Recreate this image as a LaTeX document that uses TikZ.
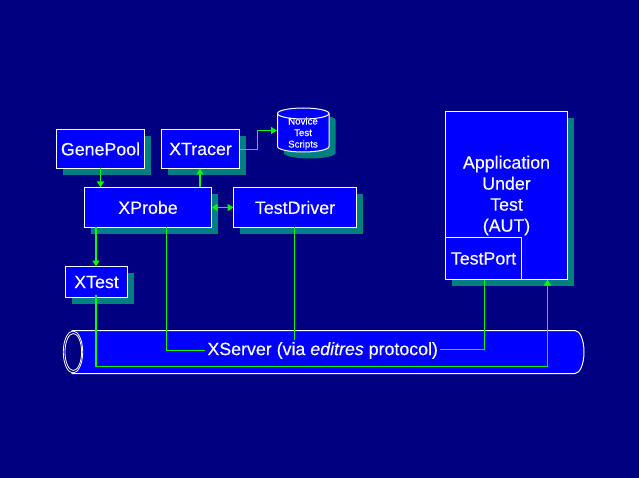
\documentclass[tikz,border=0pt]{standalone}
\usepackage{fontspec}
\setmainfont{Liberation Sans}[FakeBold=0.25]
\usetikzlibrary{math}
\usetikzlibrary{shadows}
\usetikzlibrary{arrows.meta}
\definecolor{deepnavy}{HTML}{000080}
\definecolor{boxblue}{HTML}{0000FF}
\definecolor{shadowteal}{HTML}{008080}
\definecolor{linkgreen}{HTML}{00FF00}
\newcommand{\drumoutline}{(277.5,113.5) arc[start angle=180, end angle=360, x radius=25.75, y radius=5.5] -- (329,146.5) arc[start angle=0, end angle=180, x radius=25.75, y radius=5.5] -- cycle}
\tikzset{
	plainbox/.style={draw=white, line width=1pt, fill=boxblue, text=white, font=\fontsize{17.8}{21}\selectfont, align=center, inner sep=0pt, outer sep=0pt},
	shadowbox/.style={plainbox, drop shadow={shadow xshift=6.5pt, shadow yshift=-6.5pt, fill=shadowteal, opacity=1}},
	link/.style={draw=linkgreen, line width=1.3pt},
	fatlink/.style={link, line width=2pt},
	tip/.style={-{Triangle[length=6pt,width=7pt]}},
}
\begin{document}
\begin{tikzpicture}[x=1pt,y=-1pt]
	\tikzmath{\pipel=72; \piper=575; \pipet=330.5; \pipeb=373.5; \pipem=(\pipet+\pipeb)/2; \piperad=(\pipeb-\pipet)/2; \busy=366.5; \busx=547.5;}
	\fill[deepnavy] (0,0) rectangle (639,478);
	\useasboundingbox (0,0) rectangle (639,478);
	% the pipe
	\filldraw[draw=white, line width=1pt, fill=boxblue] (\pipel,\pipet) -- (\piper,\pipet) arc[start angle=-90, end angle=90, x radius=9, y radius=\piperad] -- (\pipel,\pipeb) -- cycle;
	\filldraw[draw=white, line width=0.8pt, fill=deepnavy] (\pipel+1,\pipem) ellipse[x radius=9.7, y radius=\piperad-0.5];
	\draw[white, line width=0.8pt] (\pipel+1.3,\pipem) ellipse[x radius=8.3, y radius=\piperad-3];
	\node[text=white, font=\fontsize{17.8}{21}\selectfont, inner sep=2pt] (xserver) at (322.7,350.5) {XServer (via \textit{editres} protocol)};
	% the drum
	\fill[shadowteal, shift={(6.5,6.5)}] \drumoutline;
	\filldraw[draw=white, line width=1pt, fill=boxblue] \drumoutline;
	\draw[white, line width=1pt] (277.5,113.5) arc[start angle=180, end angle=0, x radius=25.75, y radius=5.5];
	\node[text=white, align=center, inner sep=0pt, font=\fontsize{9.7}{11.5}\selectfont] (scripts) at (303,133.5) {Novice\\Test\\Scripts};
	\coordinate (drumside) at (277,130.5);
	% the boxes
	\node[shadowbox, minimum width=88pt, minimum height=39pt] (genepool) at (100.5,149) {GenePool};
	\node[shadowbox, minimum width=78pt, minimum height=39pt] (xtracer) at (200.5,149) {XTracer};
	\node[shadowbox, minimum width=127pt, minimum height=40pt] (xprobe) at (148,207.5) {XProbe};
	\node[shadowbox, minimum width=123pt, minimum height=40pt] (testdriver) at (295,207.5) {TestDriver};
	\node[shadowbox, minimum width=62pt, minimum height=31pt] (xtest) at (96.5,282) {XTest};
	\node[shadowbox, minimum width=122pt, minimum height=168pt] (aut) at (506.5,195.5) {Application\\Under\\Test\\(AUT)};
	\node[plainbox, minimum width=76pt, minimum height=42pt] (testport) at (483.5,258.5) {TestPort};
	% the links
	\draw[link, tip] (genepool.south) -- (genepool.south |- xprobe.north);
	\draw[fatlink, tip] ([xshift=-0.5pt]xtracer.south |- xprobe.north) -- ([xshift=-0.5pt]xtracer.south);
	\draw[link, tip] ([yshift=-0.5pt]xtracer.east) -- ++(18,0) |- (drumside);
	\draw[link, {Triangle[length=6pt,width=7pt]}-{Triangle[length=6pt,width=7pt]}] (xprobe.east) -- (testdriver.west);
	\draw[fatlink, tip] ([xshift=-0.5pt]xtest.north |- xprobe.south) -- ([xshift=-0.5pt]xtest.north);
	\draw[link] ([xshift=18.5pt]xprobe.south) |- (xserver.west);
	\draw[link] ([xshift=-0.5pt]testdriver.south) -- ([xshift=-0.5pt]testdriver.south |- xserver.north);
	\draw[link] ([yshift=1pt]xserver.east) -| ([xshift=1pt]testport.south);
	\coordinate (busturn) at (\busx,\busy);
	\draw[fatlink] ([xshift=-0.5pt,yshift=2.5pt]xtest.south) -- ([xshift=-0.5pt]xtest.south |- busturn);
	\draw[link, tip] (xtest.south |- busturn) -- (busturn) -- (busturn |- aut.south);
\end{tikzpicture}
\end{document}
